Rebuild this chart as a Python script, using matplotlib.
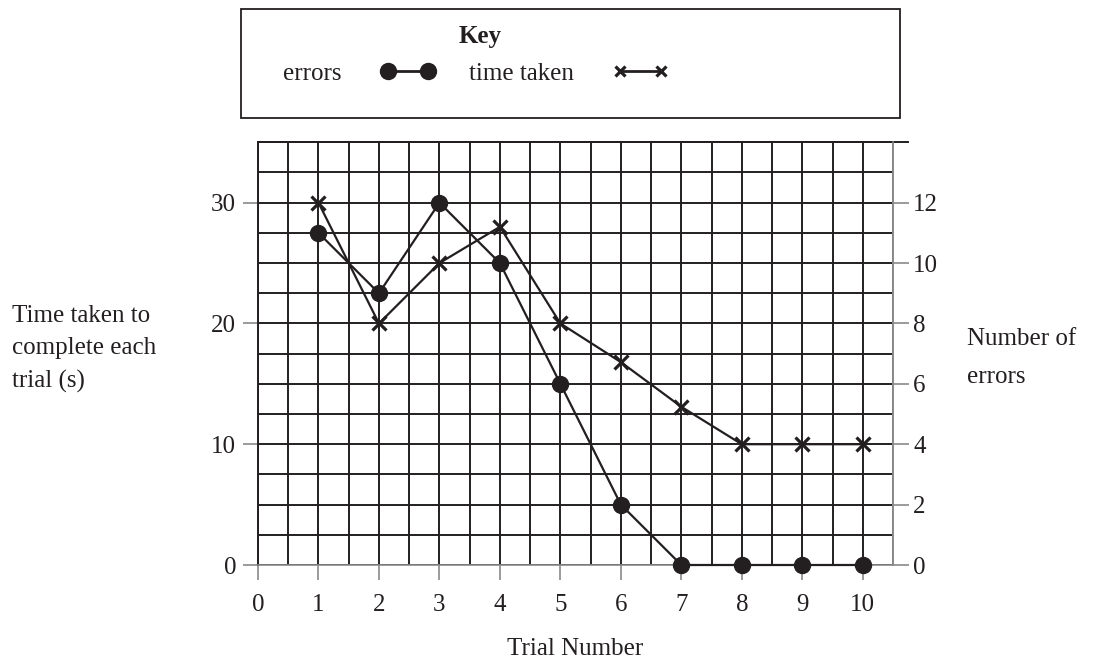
import numpy as np
import matplotlib
matplotlib.use("Agg")
import matplotlib.pyplot as plt
from matplotlib.lines import Line2D
from matplotlib.patches import Rectangle
from matplotlib.legend_handler import HandlerLine2D

# --------------------------------------------------------------------------- #
# Data
# --------------------------------------------------------------------------- #
trials = [1, 2, 3, 4, 5, 6, 7, 8, 9, 10]
time_taken = [30, 20, 25, 28, 20, 16.8, 13.1, 10, 10, 10]
errors = [11, 9, 12, 10, 6, 2, 0, 0, 0, 0]

x_ticks = [0, 1, 2, 3, 4, 5, 6, 7, 8, 9, 10]
time_ticks = [0, 10, 20, 30]
error_ticks = [0, 2, 4, 6, 8, 10, 12]

INK = "#231f20"
GREY = "#8a8a8a"
FONT = "Liberation Serif"
FS = 18

plt.rcParams["font.family"] = [FONT, "DejaVu Serif"]
plt.rcParams["text.color"] = INK

fig = plt.figure(figsize=(11.04, 6.61), dpi=100)
ax = fig.add_axes([258 / 1104, 96 / 661, 635 / 1104, 422.7 / 661])

# grid paper
ax.set_xlim(0, 10.5)
ax.set_ylim(0, 35)
ax.set_xticks(x_ticks)
ax.set_xticks(np.arange(0, 10.51, 0.5), minor=True)
ax.set_yticks(time_ticks)
ax.set_yticks(np.arange(0, 35.1, 2.5), minor=True)
ax.grid(True, which="both", color=INK, lw=1.4)
ax.set_axisbelow(True)

ax.tick_params(axis="both", which="minor", length=0)
ax.tick_params(axis="x", which="major", direction="out", length=10.8, width=1.2,
               color=GREY, labelsize=FS, labelcolor=INK, pad=10)
ax.tick_params(axis="y", which="major", direction="out", length=10.8, width=1.2,
               color=GREY, labelsize=FS, labelcolor=INK, pad=5)

for side in ("left", "top"):
    ax.spines[side].set_color(INK)
    ax.spines[side].set_linewidth(1.4)
for side in ("bottom", "right"):
    ax.spines[side].set_color(GREY)
    ax.spines[side].set_linewidth(1.2)

ax.axhline(35, xmin=0, xmax=1.024, color=INK, lw=1.4, clip_on=False)

ax.set_xlabel("Trial Number", fontsize=FS, labelpad=16, color=INK)

# time taken (left axis)
ax.plot(trials, time_taken, color=INK, lw=1.6, marker="x", ms=9.5, mew=2.3,
        clip_on=False, zorder=4)

# errors (right axis)
ax2 = ax.twinx()
ax2.set_ylim(0, 14)
ax2.set_yticks(error_ticks)
ax2.tick_params(axis="y", direction="out", length=11.5, width=1.2, color=GREY,
                labelsize=FS, labelcolor=INK, pad=3)
for side in ("left", "top", "bottom"):
    ax2.spines[side].set_visible(False)
ax2.spines["right"].set_color(GREY)
ax2.spines["right"].set_linewidth(1.2)
ax2.plot(trials, errors, color=INK, lw=1.6, marker="o", ms=11.5,
         clip_on=False, zorder=4)

# side labels
fig.text(12 / 1104, 1 - 349 / 661, "Time taken to\ncomplete each\ntrial (s)",
         fontsize=FS, ha="left", va="center", linespacing=1.6, color=INK)
fig.text(967 / 1104, 1 - 358 / 661, "Number of\nerrors",
         fontsize=FS, ha="left", va="center", linespacing=1.95, color=INK)

# key
fig.add_artist(Rectangle((241 / 1104, 1 - 118 / 661), 659 / 1104, 109 / 661,
                         transform=fig.transFigure, fill=False,
                         edgecolor=INK, lw=1.3))
handles = [
    Line2D([], [], color=INK, lw=2, marker="o", ms=11.5),
    Line2D([], [], color=INK, lw=2, marker="x", ms=7.5, mew=2.3),
]
leg = fig.legend(handles, ["errors", "time taken"], loc="center",
                 bbox_to_anchor=(480 / 1104, 1 - 55 / 661), ncol=2,
                 frameon=False, markerfirst=False, numpoints=2,
                 handlelength=2.9, handletextpad=1.2, columnspacing=1.0,
                 labelspacing=0.55, fontsize=FS, title="Key",
                 title_fontproperties={"family": FONT, "weight": "bold", "size": FS},
                 handler_map={Line2D: HandlerLine2D(marker_pad=0.64)})
for t in leg.get_texts():
    t.set_color(INK)
leg.get_title().set_color(INK)

fig.savefig("out.png", dpi=100)
